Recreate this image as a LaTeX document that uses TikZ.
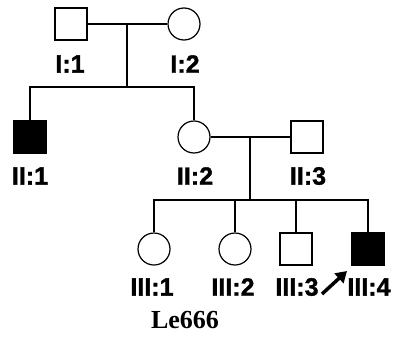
\documentclass[tikz,border=0pt]{standalone}
\usepackage{fontspec}
\setmainfont{Liberation Sans}
\newfontfamily\labfont[BoldFeatures={FakeBold=1.5}]{Liberation Sans}
\newfontfamily\titlefont{Liberation Serif}
\usetikzlibrary{arrows.meta}
\begin{document}
\begin{tikzpicture}[x=1pt,y=-1pt,
  male/.style={draw,line width=1.2pt,minimum size=32pt,inner sep=0pt},
  female/.style={draw,circle,line width=1.2pt,minimum size=32pt,inner sep=0pt},
  affected/.style={fill=black},
  lab/.style={font=\labfont\fontsize{25}{25}\selectfont\bfseries,inner sep=0pt},
  link/.style={line width=2.5pt}]
\useasboundingbox (0,0) rectangle (393,356);
% generation I
\node[male] (i1) at (71,24) {};
\node[female] (i2) at (184,24) {};
\node[lab] (li1) at (70,64) {I:1};
\node[lab] (li2) at (185,64) {I:2};
\coordinate (m1) at (127,24);
\coordinate (s1) at (127,87);
\draw[link] (i1.east) -- (i2.west);
\draw[link] (m1) -- (s1);
% generation II
\node[male,affected] (ii1) at (30,137) {};
\node[female] (ii2) at (194,137) {};
\node[male] (ii3) at (307,137) {};
\node[lab] (lii1) at (30,176) {II:1};
\node[lab] (lii2) at (195,176) {II:2};
\node[lab] (lii3) at (308,176) {II:3};
\draw[link] (s1) -| (ii1.north);
\draw[link] (s1) -| (ii2.north);
\coordinate (m2) at (250,137);
\coordinate (s2) at (250,200);
\draw[link] (ii2.east) -- (ii3.west);
\draw[link] (m2) -- (s2);
% generation III
\node[female] (iii1) at (154,249) {};
\node[female] (iii2) at (235,249) {};
\node[male] (iii3) at (296,249) {};
\node[male,affected] (iii4) at (368,249) {};
\node[lab] (liii1) at (152,287) {III:1};
\node[lab] (liii2) at (233,287) {III:2};
\node[lab] (liii3) at (297,287) {III:3};
\node[lab] (liii4) at (369,287) {III:4};
\draw[link] (s2) -| (iii1.north);
\draw[link] (s2) -| (iii2.north);
\draw[link] (s2) -| (iii3.north);
\draw[link] (s2) -| (iii4.north);
% proband
\coordinate (pb) at (322,294);
\coordinate (pt) at (347,271);
\draw[line width=3.5pt,-{Triangle[length=11pt,width=13pt]}] (pb) -- (pt);
\node[font=\titlefont\fontsize{26}{26}\selectfont\bfseries] (title) at (185,320) {Le666};
\end{tikzpicture}
\end{document}
